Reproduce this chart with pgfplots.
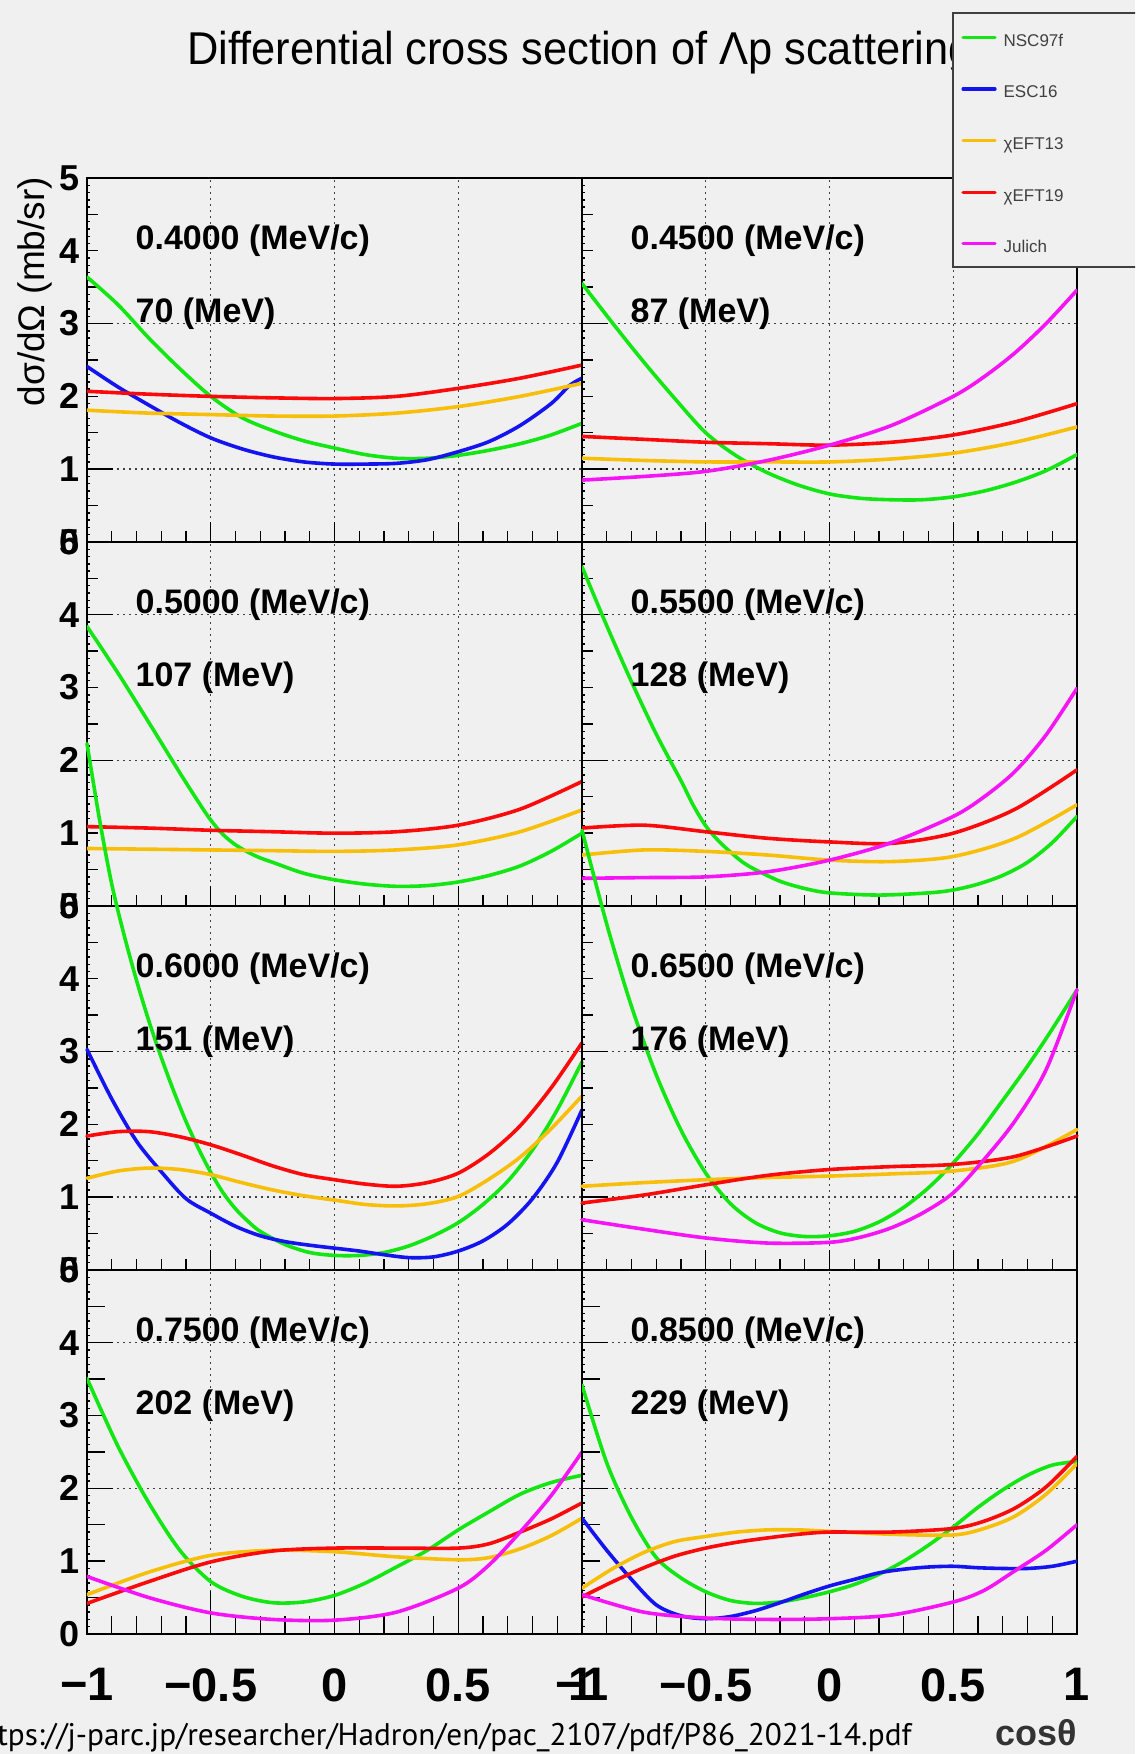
\documentclass[border=0pt]{standalone}
\usepackage{fontspec}
\setmainfont{Liberation Sans}
\newfontfamily\urlfont{PT Sans}
\usepackage{pgfplots}
\pgfplotsset{compat=1.18}
\definecolor{bg}{RGB}{240,240,240}
\definecolor{cG}{RGB}{20,230,20}
\definecolor{cB}{RGB}{20,20,240}
\definecolor{cY}{RGB}{247,190,10}
\definecolor{cR}{RGB}{250,10,10}
\definecolor{cM}{RGB}{245,20,245}
\newcommand{\fs}[1]{\fontsize{#1}{#1}\selectfont}
\newcommand{\lab}[2]{%
 \node[anchor=base west,inner sep=0pt,font=\bfseries\fs{17}] at (axis cs:-0.805,4.02) {#1};
 \node[anchor=base west,inner sep=0pt,font=\bfseries\fs{17}] at (axis cs:-0.805,3.02) {#2};}
\tikzset{
 crv/.style={line width=1.8pt, smooth, tension=0.5, line join=round, line cap=round},
 gr/.style={cG,crv}, bl/.style={cB,crv}, ye/.style={cY,crv}, re/.style={cR,crv}, ma/.style={cM,crv}}
\pgfplotsset{
 panel/.style={
  scale only axis, width=247.5pt, height=182pt, anchor=south west,
  xmin=-1,xmax=1,ymin=0,ymax=5,
  axis line style={black,line width=0.9pt},
  tick align=inside, tick pos=left,
  xtick={-1,-0.9,-0.8,-0.7,-0.6,-0.5,-0.4,-0.3,-0.2,-0.1,0,0.1,0.2,0.3,0.4,0.5,0.6,0.7,0.8,0.9,1},
  minor x tick num=0,
  ytick={0,0.5,1,1.5,2,2.5,3,3.5,4,4.5,5},
  minor y tick num=4,
  major tick length=5.5pt, minor tick length=1.5pt,
  tick style={black,line width=0.7pt},
  xticklabels={}, yticklabels={},
  extra x ticks={-0.5,0,0.5}, extra x tick labels={},
  extra x tick style={grid=major, major tick length=10pt},
  major grid style={black!75, line width=0.7pt, dash pattern=on 1pt off 2pt},
  extra y tick labels={},
  extra y tick style={grid=major, major tick length=13pt},
  yticklabel style={font=\bfseries\fs{18}, inner xsep=3.5pt},
  xticklabel style={font=\bfseries\fs{23.5}, inner ysep=0pt, yshift=-17pt},
 },
 leftcol/.style={yticklabels={0,{},1,{},2,{},3,{},4,{},5}},
 oddrow/.style={extra y ticks={1,3}},
 evenrow/.style={extra y ticks={2,4}},
 bottomrow/.style={xticklabels={−1,{},{},{},{},−0.5,{},{},{},{},0,{},{},{},{},0.5,{},{},{},{},1},
   major tick length=9pt, extra x tick style={grid=major, major tick length=21.5pt}},
}
\begin{document}
\begin{tikzpicture}
\useasboundingbox (0,0) rectangle (567.5pt,877pt);
\fill[bg] (0,0) rectangle (567.5pt,877pt);
\begin{scope}
\clip (0,0) rectangle (567.5pt,877pt);
\node[anchor=base,font=\fs{21.7},yscale=1.06] at (290pt,844.5pt) {Differential cross section of Λp scattering};
\node[rotate=90,anchor=base east,font=\fs{18.5}] at (22pt,792pt) {dσ/dΩ (mb/sr)};
\node[anchor=base east,inner sep=0pt,font=\bfseries\fs{18},text=black!80] at (538.5pt,4.5pt) {cosθ};
\node[anchor=base east,inner sep=0pt,font=\urlfont\fs{15.62}] at (456pt,4.5pt) {https://j-parc.jp/researcher/Hadron/en/pac\_2107/pdf/P86\_2021-14.pdf};

% Row 1 left
\begin{axis}[panel,leftcol,oddrow,at={(43.5pt,606pt)}]
\addplot[gr] coordinates {(-1,3.64)(-0.875,3.26)(-0.75,2.8)(-0.625,2.38)(-0.5,2.0)(-0.375,1.71)(-0.25,1.53)(-0.125,1.39)(0,1.29)(0.125,1.2)(0.25,1.15)(0.375,1.15)(0.5,1.19)(0.625,1.26)(0.75,1.35)(0.875,1.47)(1,1.63)};
\addplot[bl] coordinates {(-1,2.41)(-0.875,2.13)(-0.75,1.88)(-0.625,1.64)(-0.5,1.43)(-0.375,1.28)(-0.25,1.17)(-0.125,1.1)(0,1.07)(0.125,1.07)(0.25,1.08)(0.375,1.13)(0.5,1.24)(0.625,1.38)(0.75,1.6)(0.875,1.9)(0.95,2.15)(1,2.25)};
\addplot[ye] coordinates {(-1,1.81)(-0.75,1.77)(-0.5,1.75)(-0.25,1.73)(0,1.73)(0.25,1.77)(0.5,1.86)(0.75,2.0)(1,2.18)};
\addplot[re] coordinates {(-1,2.07)(-0.75,2.03)(-0.5,2.0)(-0.25,1.98)(0,1.97)(0.25,2.0)(0.5,2.11)(0.75,2.25)(1,2.43)};
\lab{0.4000 (MeV/c)}{70 (MeV)}
\end{axis}
% Row 1 right
\begin{axis}[panel,oddrow,at={(291pt,606pt)}]
\addplot[gr] coordinates {(-1,3.55)(-0.875,3.0)(-0.75,2.47)(-0.625,1.97)(-0.5,1.5)(-0.375,1.18)(-0.25,0.95)(-0.125,0.78)(0,0.66)(0.125,0.6)(0.25,0.58)(0.375,0.58)(0.5,0.62)(0.625,0.7)(0.75,0.82)(0.875,0.98)(1,1.2)};
\addplot[ye] coordinates {(-1,1.15)(-0.75,1.12)(-0.5,1.1)(-0.25,1.1)(0,1.1)(0.25,1.14)(0.5,1.22)(0.75,1.37)(1,1.58)};
\addplot[re] coordinates {(-1,1.45)(-0.75,1.41)(-0.5,1.37)(-0.25,1.35)(0,1.33)(0.25,1.37)(0.5,1.47)(0.75,1.65)(1,1.9)};
\addplot[ma] coordinates {(-1,0.85)(-0.75,0.9)(-0.5,0.97)(-0.25,1.12)(0,1.33)(0.25,1.6)(0.5,2.0)(0.625,2.27)(0.75,2.6)(0.875,3.0)(1,3.46)};
\lab{0.4500 (MeV/c)}{87 (MeV)}
\end{axis}
% Row 2 left
\begin{axis}[panel,leftcol,evenrow,at={(43.5pt,424pt)}]
\addplot[gr] coordinates {(-1,3.84)(-0.875,3.2)(-0.75,2.52)(-0.625,1.83)(-0.55,1.43)(-0.5,1.18)(-0.45,0.98)(-0.4,0.84)(-0.35,0.74)(-0.3,0.66)(-0.25,0.6)(-0.125,0.45)(0,0.36)(0.125,0.3)(0.25,0.27)(0.375,0.28)(0.5,0.33)(0.625,0.42)(0.75,0.55)(0.875,0.75)(1,1.0)};
\addplot[ye] coordinates {(-1,0.79)(-0.75,0.78)(-0.5,0.77)(-0.25,0.76)(0,0.75)(0.25,0.77)(0.5,0.84)(0.75,1.02)(1,1.32)};
\addplot[re] coordinates {(-1,1.09)(-0.75,1.07)(-0.5,1.04)(-0.25,1.02)(0,1.0)(0.25,1.02)(0.5,1.11)(0.75,1.33)(1,1.71)};
\lab{0.5000 (MeV/c)}{107 (MeV)}
\end{axis}
% Row 2 right
\begin{axis}[panel,evenrow,at={(291pt,424pt)}]
\addplot[gr] coordinates {(-1,4.66)(-0.9,3.85)(-0.8,3.08)(-0.7,2.36)(-0.6,1.72)(-0.55,1.38)(-0.5,1.1)(-0.45,0.9)(-0.4,0.74)(-0.35,0.6)(-0.3,0.5)(-0.2,0.34)(-0.1,0.24)(0,0.18)(0.2,0.15)(0.4,0.18)(0.5,0.22)(0.6,0.3)(0.7,0.42)(0.8,0.6)(0.9,0.87)(1,1.23)};
\addplot[ye] coordinates {(-1,0.7)(-0.75,0.77)(-0.5,0.75)(-0.25,0.7)(0,0.63)(0.25,0.61)(0.5,0.68)(0.75,0.93)(1,1.39)};
\addplot[re] coordinates {(-1,1.07)(-0.75,1.11)(-0.5,1.02)(-0.25,0.93)(0,0.88)(0.25,0.86)(0.5,1.0)(0.75,1.33)(1,1.87)};
\addplot[ma] coordinates {(-1,0.38)(-0.75,0.39)(-0.5,0.4)(-0.25,0.47)(0,0.63)(0.25,0.87)(0.5,1.23)(0.625,1.5)(0.75,1.85)(0.875,2.35)(1,2.99)};
\lab{0.5500 (MeV/c)}{128 (MeV)}
\end{axis}
% Row 3 left
\begin{axis}[panel,leftcol,oddrow,clip=false,at={(43.5pt,242pt)}]
\addplot[gr] coordinates {(-1,7.23)(-0.95,6.2)(-0.9,5.3)(-0.85,4.6)(-0.8,3.98)(-0.75,3.42)(-0.7,2.92)(-0.65,2.46)(-0.6,2.04)(-0.55,1.67)(-0.5,1.34)(-0.45,1.06)(-0.4,0.84)(-0.35,0.67)(-0.3,0.53)(-0.2,0.35)(-0.1,0.24)(0,0.2)(0.1,0.2)(0.2,0.24)(0.3,0.33)(0.4,0.47)(0.5,0.65)(0.6,0.9)(0.7,1.22)(0.8,1.65)(0.9,2.2)(1,2.86)};
\addplot[bl] coordinates {(-1,3.03)(-0.9,2.35)(-0.8,1.77)(-0.7,1.35)(-0.6,0.98)(-0.5,0.78)(-0.4,0.6)(-0.3,0.47)(-0.2,0.39)(-0.1,0.34)(0,0.3)(0.1,0.26)(0.2,0.21)(0.3,0.17)(0.4,0.18)(0.5,0.26)(0.6,0.4)(0.7,0.63)(0.8,0.98)(0.9,1.48)(1,2.2)};
\addplot[ye] coordinates {(-1,1.26)(-0.875,1.36)(-0.75,1.4)(-0.625,1.38)(-0.5,1.31)(-0.375,1.2)(-0.25,1.1)(-0.125,1.02)(0,0.96)(0.125,0.9)(0.25,0.88)(0.375,0.91)(0.5,1.01)(0.625,1.25)(0.75,1.55)(0.875,1.94)(1,2.39)};
\addplot[re] coordinates {(-1,1.84)(-0.875,1.9)(-0.75,1.9)(-0.625,1.83)(-0.5,1.72)(-0.375,1.58)(-0.25,1.43)(-0.125,1.31)(0,1.24)(0.125,1.18)(0.25,1.15)(0.375,1.2)(0.5,1.33)(0.625,1.6)(0.75,1.98)(0.875,2.5)(1,3.12)};
\lab{0.6000 (MeV/c)}{151 (MeV)}
\end{axis}
% Row 3 right
\begin{axis}[panel,oddrow,clip=false,at={(291pt,242pt)}]
\addplot[gr] coordinates {(-1,6.04)(-0.9,4.75)(-0.8,3.62)(-0.7,2.68)(-0.6,1.92)(-0.5,1.33)(-0.4,0.91)(-0.3,0.65)(-0.2,0.51)(-0.1,0.46)(0,0.47)(0.1,0.53)(0.2,0.66)(0.3,0.86)(0.4,1.13)(0.5,1.47)(0.6,1.87)(0.7,2.33)(0.8,2.8)(0.9,3.31)(1,3.85)};
\addplot[ye] coordinates {(-1,1.15)(-0.75,1.2)(-0.5,1.24)(-0.25,1.27)(0,1.29)(0.25,1.32)(0.5,1.36)(0.75,1.5)(1,1.93)};
\addplot[re] coordinates {(-1,0.92)(-0.75,1.03)(-0.5,1.17)(-0.25,1.3)(0,1.38)(0.25,1.42)(0.5,1.45)(0.75,1.56)(1,1.84)};
\addplot[ma] coordinates {(-1,0.69)(-0.75,0.56)(-0.5,0.44)(-0.25,0.37)(0,0.38)(0.125,0.45)(0.25,0.58)(0.375,0.78)(0.5,1.06)(0.625,1.52)(0.75,2.05)(0.875,2.75)(1,3.85)};
\lab{0.6500 (MeV/c)}{176 (MeV)}
\end{axis}
% Row 4 left
\begin{axis}[panel,leftcol,evenrow,bottomrow,at={(43.5pt,60pt)}]
\addplot[gr] coordinates {(-1,3.51)(-0.875,2.58)(-0.75,1.8)(-0.625,1.15)(-0.5,0.72)(-0.375,0.52)(-0.25,0.43)(-0.125,0.44)(0,0.53)(0.125,0.7)(0.25,0.92)(0.375,1.15)(0.5,1.43)(0.625,1.68)(0.75,1.92)(0.875,2.08)(1,2.18)};
\addplot[ye] coordinates {(-1,0.54)(-0.75,0.85)(-0.5,1.08)(-0.25,1.15)(0,1.13)(0.25,1.06)(0.5,1.02)(0.625,1.05)(0.75,1.17)(0.875,1.35)(1,1.59)};
\addplot[re] coordinates {(-1,0.42)(-0.75,0.72)(-0.5,0.99)(-0.25,1.14)(0,1.18)(0.25,1.18)(0.5,1.18)(0.625,1.24)(0.75,1.4)(0.875,1.58)(1,1.8)};
\addplot[ma] coordinates {(-1,0.79)(-0.75,0.5)(-0.5,0.29)(-0.25,0.2)(0,0.19)(0.25,0.3)(0.5,0.63)(0.625,0.95)(0.75,1.4)(0.875,1.9)(1,2.5)};
\lab{0.7500 (MeV/c)}{202 (MeV)}
\end{axis}
% Row 4 right
\begin{axis}[panel,evenrow,bottomrow,at={(291pt,60pt)}]
\addplot[gr] coordinates {(-1,3.42)(-0.9,2.35)(-0.8,1.6)(-0.7,1.05)(-0.6,0.77)(-0.5,0.58)(-0.4,0.46)(-0.3,0.42)(-0.2,0.44)(-0.1,0.5)(0,0.58)(0.1,0.68)(0.2,0.82)(0.3,1.0)(0.4,1.22)(0.5,1.47)(0.6,1.74)(0.7,1.98)(0.8,2.18)(0.9,2.32)(1,2.37)};
\addplot[bl] coordinates {(-1,1.59)(-0.9,1.15)(-0.8,0.75)(-0.7,0.4)(-0.6,0.25)(-0.5,0.21)(-0.4,0.24)(-0.3,0.32)(-0.2,0.43)(-0.1,0.55)(0,0.66)(0.1,0.75)(0.2,0.84)(0.3,0.89)(0.4,0.92)(0.5,0.93)(0.6,0.91)(0.7,0.9)(0.8,0.9)(0.9,0.93)(1,1.0)};
\addplot[ye] coordinates {(-1,0.63)(-0.875,0.9)(-0.75,1.12)(-0.625,1.27)(-0.5,1.34)(-0.375,1.4)(-0.25,1.43)(-0.125,1.43)(0,1.41)(0.25,1.37)(0.5,1.36)(0.625,1.45)(0.75,1.62)(0.875,1.92)(1,2.34)};
\addplot[re] coordinates {(-1,0.51)(-0.875,0.72)(-0.75,0.91)(-0.625,1.07)(-0.5,1.18)(-0.375,1.26)(-0.25,1.32)(-0.125,1.37)(0,1.4)(0.25,1.4)(0.5,1.45)(0.625,1.55)(0.75,1.73)(0.875,2.02)(1,2.44)};
\addplot[ma] coordinates {(-1,0.54)(-0.75,0.3)(-0.5,0.22)(-0.25,0.2)(0,0.21)(0.25,0.26)(0.5,0.44)(0.625,0.6)(0.75,0.87)(0.875,1.15)(1,1.5)};
\lab{0.8500 (MeV/c)}{229 (MeV)}
\end{axis}

% Legend
\fill[bg, draw=black!75, line width=1pt] (476.5pt,743.5pt) rectangle (590pt,870.5pt);
\begin{axis}[at={(0pt,0pt)}, anchor=south west, scale only axis, width=567.5pt, height=877pt,
 xmin=0,xmax=567.5,ymin=0,ymax=877, hide axis,
 legend style={at={(0.8467,0.9812)}, anchor=north west, draw=none, fill=none, inner sep=0pt,
   row sep=17.3pt, column sep=3.5pt, font=\fs{8.5}, text=black!75,
   nodes={inner sep=0pt, text height=6.5pt, text depth=2pt}},
 legend cell align=left,
 legend image code/.code={\draw[#1] (0pt,2.25pt) -- (16pt,2.25pt);}]
\addlegendimage{gr,line width=1.6pt}\addlegendentry{NSC97f}
\addlegendimage{bl,line width=1.6pt}\addlegendentry{ESC16}
\addlegendimage{ye,line width=1.6pt}\addlegendentry{χEFT13}
\addlegendimage{re,line width=1.6pt}\addlegendentry{χEFT19}
\addlegendimage{ma,line width=1.6pt}\addlegendentry{Julich}
\end{axis}
\end{scope}
\end{tikzpicture}
\end{document}
